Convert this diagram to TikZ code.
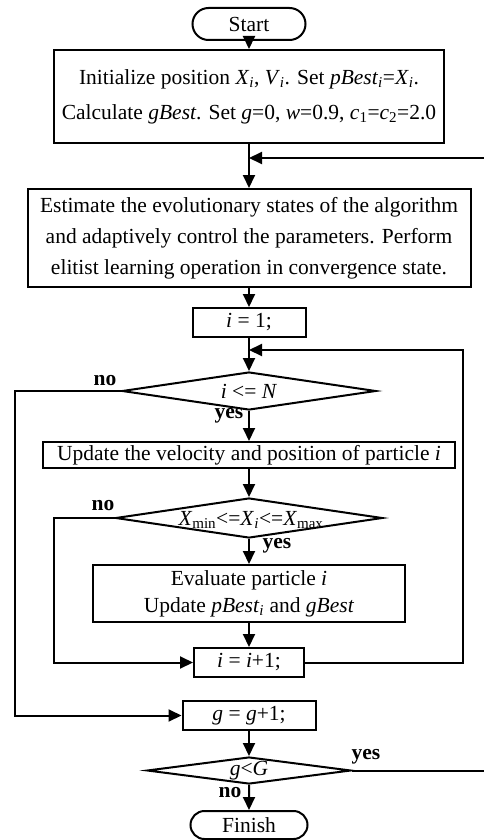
\documentclass[tikz,border=0pt]{standalone}
\usepackage{fontspec}
\setmainfont{Liberation Serif}
\usetikzlibrary{arrows.meta,shapes.geometric,shapes.misc}
\newcommand{\isub}[2]{\textit{#1}\textsubscript{#2}}

\begin{document}
\begin{tikzpicture}[x=1pt,y=-1pt,line width=2pt,font=\fontsize{21.5}{31}\selectfont,
  box/.style={draw,rectangle,align=center,inner sep=0pt},
  term/.style={draw,rounded rectangle,inner sep=0pt},
  decide/.style={draw,diamond,inner sep=0pt},
  lab/.style={font=\fontsize{21.5}{22}\selectfont\bfseries,inner sep=0pt},
  arr/.style={-{Triangle[length=13pt,width=12pt]}}]
  \useasboundingbox (0,0) rectangle (483,840);
  \node[term,minimum width=113,minimum height=32] (start) at (249,24) {Start};
  \node[box,minimum width=390,minimum height=93,font=\fontsize{21.5}{35}\selectfont] (init) at (249,96.5)
    {Initialize position \isub{X}{\textit{i}}, \isub{V}{\textit{i}}. Set \textit{pBest}\textsubscript{\textit{i}}=\isub{X}{\textit{i}}.\\
     Calculate \textit{gBest}. Set \textit{g}=0, \textit{w}=0.9, \isub{c}{1}=\isub{c}{2}=2.0};
  \node[box,minimum width=443,minimum height=98] (est) at (249,238)
    {Estimate the evolutionary states of the algorithm\\
     and adaptively control the parameters. Perform\\
     elitist learning operation in convergence state.};
  \node[box,minimum width=113,minimum height=29] (i1) at (249,322.5) {\textit{i} = 1;};
  \node[decide,minimum width=254,minimum height=38] (d1) at (249,391) {};
  \node (d1t) at (d1) {\textit{i} <= \textit{N}};
  \node[box,minimum width=412,minimum height=26] (upd) at (249,455)
    {Update the velocity and position of particle \textit{i}};
  \node[decide,minimum width=267,minimum height=40] (d2) at (249,518) {};
  \node (d2t) at (251,520) {\isub{X}{min}<=\isub{X}{\textit{i}}<=\isub{X}{max}};
  \node[box,minimum width=312,minimum height=57,font=\fontsize{21.5}{27}\selectfont] (eval) at (249,593.5)
    {Evaluate particle \textit{i}\\ Update \textit{pBest}\textsubscript{\textit{i}} and \textit{gBest}};
  \node[box,minimum width=110,minimum height=29] (ii1) at (249,662.5) {\textit{i} = \textit{i}+1;};
  \node[box,minimum width=133,minimum height=29] (gg1) at (249,715.5) {\textit{g} = \textit{g}+1;};
  \node[decide,minimum width=204,minimum height=27] (d3) at (249,770.5) {};
  \node (d3t) at (d3) {\textit{g}<\textit{G}};
  \node[term,minimum width=117,minimum height=28] (fin) at (249,825) {Finish};

  \node[lab] (no1) at (105,381) {no};
  \node[lab] (yes1) at (229,416) {yes};
  \node[lab] (no2) at (103,506) {no};
  \node[lab] (yes2) at (277,546) {yes};
  \node[lab] (yes3) at (366,757) {yes};
  \node[lab] (no3) at (230,793) {no};

  \coordinate (j1) at (249,158);
  \coordinate (j2) at (249,350);
  \coordinate (edge) at (492,158);
  \coordinate (rk) at (463,350);
  \coordinate (lk) at (15,391);
  \coordinate (mk) at (54,518);

  \foreach \a/\b in {start/init,init/est,est/i1,i1/d1,d1/upd,upd/d2,d2/eval,eval/ii1,gg1/d3,d3/fin}
    \draw[arr] (\a) -- (\b);
  \draw[arr] (d3.east) -| (edge) -- (j1);
  \draw[arr] (ii1.east) -| (rk) -- (j2);
  \draw[arr] (d1.west) -- (lk) |- (gg1.west);
  \draw[arr] (d2.west) -- (mk) |- (ii1.west);
\end{tikzpicture}
\end{document}
